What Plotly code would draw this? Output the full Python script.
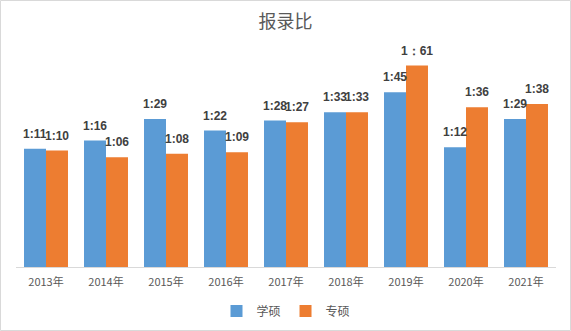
import plotly.graph_objects as go

years = ["2013年", "2014年", "2015年", "2016年", "2017年", "2018年", "2019年", "2020年", "2021年"]
# values read as h:mm durations (minutes)
xueshuo_minutes = [71, 76, 89, 82, 88, 93, 105, 72, 89]
zhuanshuo_minutes = [70, 66, 68, 69, 87, 93, 121, 96, 98]
xueshuo_labels = ["1:11", "1:16", "1:29", "1:22", "1:28", "1:33", "1:45", "1:12", "1:29"]
zhuanshuo_labels = ["1:10", "1:06", "1:08", "1:09", "1:27", "1:33", "1：61", "1:36", "1:38"]

BLUE = "#5B9BD5"
ORANGE = "#ED7D31"
LABEL = "#404040"
GRAY = "#595959"

fig = go.Figure()
fig.add_trace(go.Bar(name="学硕", x=years, y=xueshuo_minutes, marker_color=BLUE,
                     marker_line_width=0))
fig.add_trace(go.Bar(name="专硕", x=years, y=zhuanshuo_minutes, marker_color=ORANGE,
                     marker_line_width=0))

annotations = []
for labels, vals, shift in [(xueshuo_labels, xueshuo_minutes, -11),
                            (zhuanshuo_labels, zhuanshuo_minutes, 11)]:
    for yr, v, t in zip(years, vals, labels):
        annotations.append(dict(
            x=yr, y=v, text=t, showarrow=False, xshift=shift, yshift=15,
            yanchor="middle", xanchor="center",
            font=dict(family="Liberation Sans Narrow, Liberation Sans", size=12,
                      color=LABEL, weight="bold")))

W, H = 571, 331
ml, mr, mt, mb = 16, 15, 34, 64
pw = W - ml - mr
ph = H - mt - mb

fig.update_layout(
    width=W, height=H,
    margin=dict(l=ml, r=mr, t=mt, b=mb, autoexpand=False),
    paper_bgcolor="white", plot_bgcolor="white",
    barmode="group", bargap=0.267, bargroupgap=0,
    title=dict(text="报录比", x=0.5, xanchor="center", y=1 - 22 / H, yanchor="middle",
               font=dict(family="Noto Sans CJK SC", size=18, color=GRAY)),
    xaxis=dict(showline=True, linecolor="#D9D9D9", linewidth=1, ticks="outside",
               ticklen=5, tickcolor="rgba(0,0,0,0)",
               tickfont=dict(family="Noto Sans CJK SC", size=11, color=GRAY),
               showgrid=False, zeroline=False),
    yaxis=dict(range=[0, 140], visible=False, showgrid=False, zeroline=False),
    legend=dict(orientation="h", x=0.5, xanchor="center", y=(267 - 311) / ph,
                yanchor="middle", font=dict(family="Noto Sans CJK SC", size=12, color=GRAY),
                itemwidth=30, tracegroupgap=0),
    annotations=annotations,
    showlegend=True,
    shapes=[dict(type="rect", xref="paper", yref="paper",
                 x0=-(ml - 0.5) / pw, x1=1 + (mr - 0.5) / pw,
                 y0=-(mb - 0.5) / ph, y1=1 + (mt - 0.5) / ph,
                 line=dict(color="#D9D9D9", width=1), layer="below")],
)

fig.write_html("out.html")
